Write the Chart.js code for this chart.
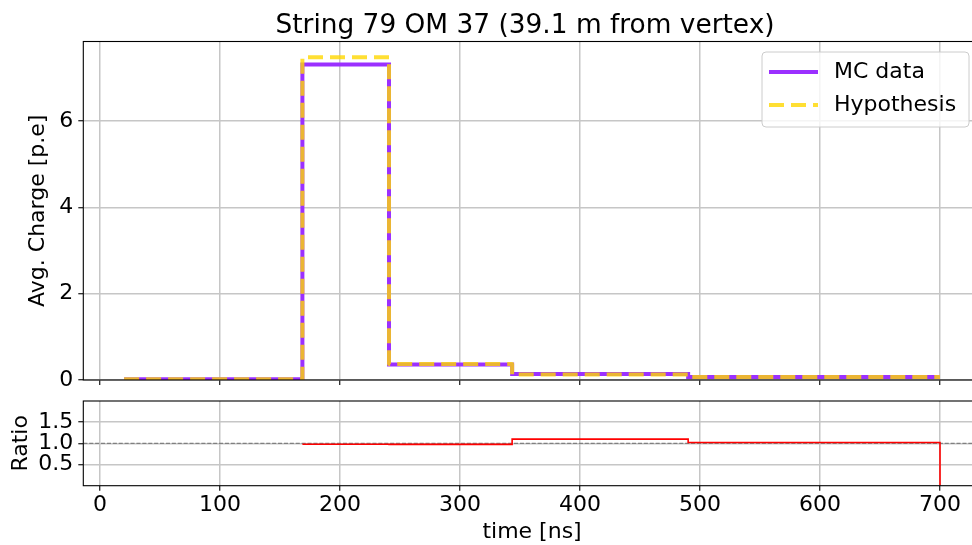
<!DOCTYPE html>
<html>
<head>
<meta charset="utf-8">
<script src="https://cdn.jsdelivr.net/npm/chart.js@4.4.1/dist/chart.umd.min.js"></script>
<style>
  html, body { margin: 0; padding: 0; background: #fff; }
  #wrap { position: relative; width: 972px; height: 545px; overflow: hidden; background: #fff; }
  canvas { position: absolute; left: 0; }
  #charge { top: 0; }
  #ratio { top: 395px; }
</style>
</head>
<body>
<div id="wrap">
  <canvas id="charge" width="990" height="395"></canvas>
  <canvas id="ratio" width="990" height="150"></canvas>
</div>
<script>
// bin edges in ns and the per-bin averages
const binEdges = [20, 168.6, 240.8, 343.4, 490.1, 700];
const mcCharge = [0.015, 7.31, 0.36, 0.138, 0.071];
const hypCharge = [0.015, 7.475, 0.369, 0.126, 0.07];
// MC / hypothesis, starting at binEdges[1]; last value closes the step at 700
const ratioValues = [0.98, 0.976, 1.10, 1.02, 0];

const timeTicks = [0, 100, 200, 300, 400, 500, 600, 700];
const chargeTicks = [0, 2, 4, 6];
const ratioTicks = [0.5, 1.0, 1.5];
const timeRange = [-14, 734];
const chargeRange = [0, 7.84];
const ratioRange = [0, 2];
const refRatio = 1.0;

const TITLE = 'String 79 OM 37 (39.1 m from vertex)';
const PURPLE = '#9b30ff';
const GOLD = 'rgba(255, 215, 0, 0.8)';
const GRID = '#c6c6c6';

Chart.defaults.font.family = 'DejaVu Sans';
Chart.defaults.color = '#000';
Chart.defaults.animation = false;

function stepPoints(edges, values) {
  const pts = values.map((v, i) => ({ x: edges[i], y: v }));
  pts.push({ x: edges[values.length], y: values[values.length - 1] });
  return pts;
}

// pin axis boxes to fixed sizes so both panels share the same x pixels
function fixSize(prop, size) {
  return s => {
    s[prop] = size;
    s.paddingTop = s.paddingBottom = s.paddingLeft = s.paddingRight = 0;
  };
}

function setTicks(values) {
  return s => { s.ticks = values.map(v => ({ value: v })); };
}

const spines = {
  id: 'spines',
  afterDatasetsDraw(chart) {
    const { ctx, chartArea: a } = chart;
    ctx.save();
    ctx.strokeStyle = '#000';
    ctx.lineWidth = 1.1;
    ctx.strokeRect(a.left, a.top, a.right - a.left, a.bottom - a.top);
    ctx.restore();
  }
};

// figure title, sits a little left of the axes centre
const figTitle = {
  id: 'figTitle',
  afterDraw(chart) {
    const ctx = chart.ctx;
    ctx.save();
    ctx.fillStyle = '#000';
    ctx.font = '26.4px "DejaVu Sans"';
    ctx.textAlign = 'center';
    ctx.textBaseline = 'alphabetic';
    ctx.fillText(TITLE, 525, 33.3);
    ctx.restore();
  }
};

const legendBox = {
  id: 'legendBox',
  afterDraw(chart) {
    const ctx = chart.ctx;
    const x = 762, y = 52, w = 207, h = 75, r = 4;
    ctx.save();
    ctx.beginPath();
    ctx.roundRect(x, y, w, h, r);
    ctx.fillStyle = 'rgba(255,255,255,0.8)';
    ctx.fill();
    ctx.strokeStyle = '#cccccc';
    ctx.lineWidth = 1;
    ctx.stroke();

    const rows = [72, 105];
    chart.data.datasets.slice().sort((a, b) => b.order - a.order).forEach((ds, i) => {
      ctx.beginPath();
      ctx.strokeStyle = ds.borderColor;
      ctx.lineWidth = ds.borderWidth;
      ctx.setLineDash(ds.borderDash || []);
      ctx.moveTo(769, rows[i]);
      ctx.lineTo(818, rows[i]);
      ctx.stroke();
      ctx.setLineDash([]);
      ctx.fillStyle = '#000';
      ctx.font = '22px "DejaVu Sans"';
      ctx.textBaseline = 'middle';
      ctx.fillText(ds.label, 834, rows[i]);
    });
    ctx.restore();
  }
};

new Chart(document.getElementById('charge'), {
  type: 'line',
  data: {
    datasets: [
      {
        label: 'MC data',
        data: stepPoints(binEdges, mcCharge),
        stepped: 'before',
        borderColor: PURPLE,
        borderWidth: 4,
        pointRadius: 0,
        order: 2
      },
      {
        label: 'Hypothesis',
        data: stepPoints(binEdges, hypCharge),
        stepped: 'before',
        borderColor: GOLD,
        borderWidth: 4,
        borderDash: [15, 7],
        borderJoinStyle: 'round',
        pointRadius: 0,
        order: 1
      }
    ]
  },
  options: {
    responsive: false,
    layout: { padding: { top: 41.5, right: 9.2, left: 0, bottom: 0 } },
    plugins: {
      legend: { display: false },
      tooltip: { enabled: false }
    },
    scales: {
      x: {
        type: 'linear',
        min: timeRange[0],
        max: timeRange[1],
        afterBuildTicks: setTicks(timeTicks),
        afterFit: fixSize('height', 15),
        ticks: { display: false },
        grid: { color: GRID, lineWidth: 1.5, tickColor: '#000', tickWidth: 1.1, tickLength: 5 },
        border: { display: false }
      },
      y: {
        min: chargeRange[0],
        max: chargeRange[1],
        afterBuildTicks: setTicks(chargeTicks),
        afterFit: fixSize('width', 83.3),
        ticks: { font: { size: 22 }, padding: 5 },
        grid: { color: GRID, lineWidth: 1.5, tickColor: '#000', tickWidth: 1.1, tickLength: 5 },
        border: { display: false },
        title: {
          display: true,
          text: 'Avg. Charge [p.e]',
          font: { size: 22 },
          padding: { top: 25.2, bottom: 0 }
        }
      }
    }
  },
  plugins: [spines, legendBox, figTitle]
});

new Chart(document.getElementById('ratio'), {
  type: 'line',
  data: {
    datasets: [
      {
        label: 'Ratio',
        data: ratioValues.map((v, i) => ({ x: binEdges[i + 1], y: v })),
        stepped: 'before',
        borderColor: 'red',
        borderWidth: 1.6,
        pointRadius: 0,
        order: 1
      },
      {
        label: 'unity',
        data: timeRange.map(t => ({ x: t, y: refRatio })),
        borderColor: '#808080',
        borderWidth: 1.1,
        borderDash: [4.1, 1.8],
        pointRadius: 0,
        order: 2
      }
    ]
  },
  options: {
    responsive: false,
    layout: { padding: { top: 6, right: 9.2, left: 0, bottom: 0 } },
    plugins: {
      legend: { display: false },
      tooltip: { enabled: false }
    },
    scales: {
      x: {
        type: 'linear',
        min: timeRange[0],
        max: timeRange[1],
        afterBuildTicks: setTicks(timeTicks),
        afterFit: fixSize('height', 59.3),
        ticks: { font: { size: 22 }, padding: 1, maxRotation: 0 },
        grid: { color: GRID, lineWidth: 1.5, tickColor: '#000', tickWidth: 1.1, tickLength: 5 },
        border: { display: false },
        title: {
          display: true,
          text: 'time [ns]',
          font: { size: 22 },
          padding: { top: 0, bottom: 0 }
        }
      },
      y: {
        min: ratioRange[0],
        max: ratioRange[1],
        afterBuildTicks: setTicks(ratioTicks),
        afterFit: fixSize('width', 83.3),
        ticks: { font: { size: 22 }, padding: 5, callback: v => v.toFixed(1) },
        grid: { color: GRID, lineWidth: 1.5, tickColor: '#000', tickWidth: 1.1, tickLength: 5 },
        border: { display: false },
        title: {
          display: true,
          text: 'Ratio',
          font: { size: 22 },
          padding: { top: 8.2, bottom: 0 }
        }
      }
    }
  },
  plugins: [spines]
});
</script>
</body>
</html>
